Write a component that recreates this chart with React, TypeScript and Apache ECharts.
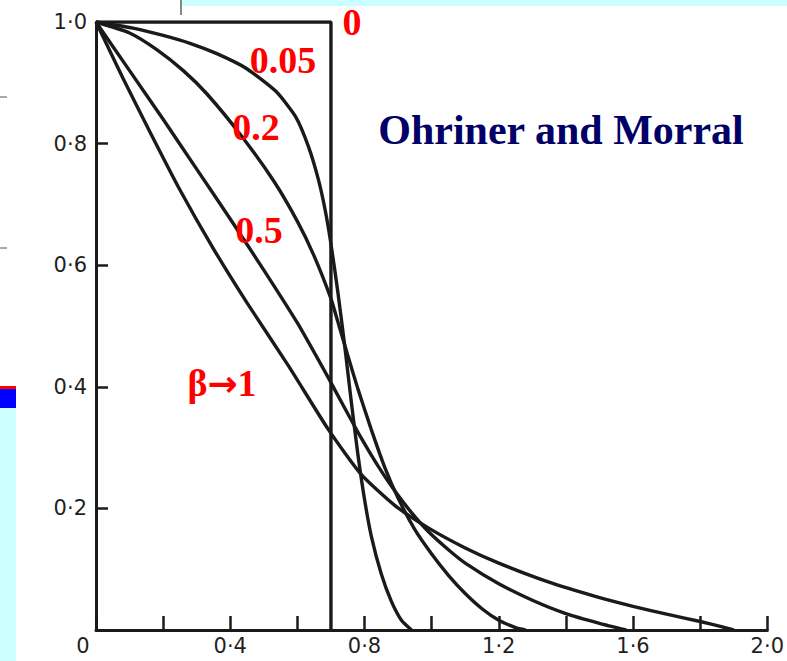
import React, { useEffect, useRef } from "react";
import * as echarts from "echarts";

// x = distance, y = normalized value; one array per beta
const beta0: number[][] = [[0, 1], [0.7, 1], [0.7, 0]];
const beta005: number[][] = [
  [0, 1], [0.11, 0.99], [0.2, 0.978], [0.28, 0.965], [0.36, 0.948], [0.447, 0.924],
  [0.536, 0.886], [0.595, 0.844], [0.633, 0.795], [0.663, 0.74], [0.683, 0.69],
  [0.7, 0.635], [0.72, 0.558], [0.74, 0.472], [0.76, 0.378], [0.78, 0.29], [0.8, 0.215],
  [0.82, 0.155], [0.85, 0.092], [0.88, 0.047], [0.91, 0.016], [0.94, 0],
];
const beta02: number[][] = [
  [0, 1], [0.1, 0.982], [0.18, 0.955], [0.26, 0.92], [0.33, 0.882], [0.43, 0.815],
  [0.53, 0.738], [0.6, 0.672], [0.65, 0.615], [0.7, 0.545], [0.72, 0.508], [0.75, 0.452],
  [0.78, 0.397], [0.82, 0.33], [0.86, 0.268], [0.9, 0.217], [0.95, 0.165], [1.0, 0.125],
  [1.05, 0.09], [1.1, 0.06], [1.15, 0.035], [1.2, 0.016], [1.25, 0.004], [1.28, 0],
];
const beta05: number[][] = [
  [0, 1], [0.1, 0.92], [0.2, 0.84], [0.3, 0.758], [0.4, 0.676], [0.5, 0.592],
  [0.6, 0.505], [0.692, 0.415], [0.74, 0.366], [0.79, 0.316], [0.84, 0.27],
  [0.89, 0.229], [0.94, 0.193], [0.99, 0.162], [1.05, 0.132], [1.1, 0.11], [1.2, 0.076],
  [1.3, 0.049], [1.4, 0.027], [1.5, 0.011], [1.58, 0],
];
const beta1: number[][] = [
  [0, 1], [0.08, 0.908], [0.16, 0.82], [0.249, 0.725], [0.35, 0.627], [0.45, 0.538],
  [0.574, 0.434], [0.692, 0.33], [0.79, 0.256], [0.89, 0.205], [0.99, 0.168],
  [1.1, 0.135], [1.2, 0.11], [1.343, 0.08], [1.49, 0.055], [1.6, 0.039], [1.7, 0.026],
  [1.8, 0.014], [1.86, 0.006], [1.9, 0],
];
const curveLabels = ["0", "0.05", "0.2", "0.5", "β→1"];
const title = "Ohriner and Morral";

const fmt = (v: number) => v.toFixed(1).replace(".", "·");

export default function App() {
  const ref = useRef<HTMLDivElement>(null);
  useEffect(() => {
    if (!ref.current) return;
    const chart = echarts.init(ref.current, null, { renderer: "svg" });
    const lineStyle = { color: "#1a1a1a", width: 3.4 };
    const mk = (name: string, data: number[][], smooth: number | boolean) => ({
      name,
      type: "line",
      data,
      showSymbol: false,
      smooth,
      lineStyle,
      silent: true,
      z: 3,
    });
    const serif = "'Liberation Serif', 'DejaVu Serif', serif";
    const redText = (text: string, x: number, y: number) => ({
      type: "text",
      x,
      y,
      z: 10,
      style: {
        text,
        fill: "#ff0000",
        font: `bold 38px ${serif}`,
        textAlign: "center",
        textVerticalAlign: "middle",
      },
    });
    const labelFont = {
      color: "#1f1f1f",
      fontSize: 21,
      fontWeight: "normal",
      fontFamily: "'DejaVu Sans', sans-serif",
    };
    chart.setOption({
      animation: false,
      backgroundColor: "#ffffff",
      grid: { left: 96, top: 22, width: 676, height: 608, containLabel: false },
      xAxis: {
        type: "value",
        min: 0,
        max: 2.0,
        interval: 0.2,
        splitLine: { show: false },
        axisLine: { lineStyle: { color: "#1a1a1a", width: 3 } },
        axisTick: { inside: true, length: 14, lineStyle: { color: "#1a1a1a", width: 2.5 } },
        axisLabel: {
          margin: 5,
          ...labelFont,
          formatter: (v: number) => {
            const k = Math.round(v * 10);
            if (k === 0) return "{z|0}";
            return k % 4 === 0 ? fmt(v) : "";
          },
          rich: {
            z: { ...labelFont, padding: [0, 26, 0, 0] },
          },
        },
      },
      yAxis: {
        type: "value",
        min: 0,
        max: 1.0,
        interval: 0.2,
        splitLine: { show: false },
        axisLine: { lineStyle: { color: "#1a1a1a", width: 3 } },
        axisTick: { inside: true, length: 12, lineStyle: { color: "#1a1a1a", width: 2.5 } },
        axisLabel: {
          margin: 9,
          ...labelFont,
          formatter: (v: number) => (v === 0 ? "" : fmt(v)),
        },
      },
      series: [
        mk(curveLabels[0], beta0, false),
        mk(curveLabels[1], beta005, 0.2),
        mk(curveLabels[2], beta02, 0.2),
        mk(curveLabels[3], beta05, 0.2),
        mk(curveLabels[4], beta1, 0.2),
      ],
      graphic: [
        { type: "rect", shape: { x: 0, y: 388, width: 16, height: 273 }, style: { fill: "#ccffff" } },
        { type: "rect", shape: { x: 0, y: 389, width: 16, height: 19 }, style: { fill: "#0000ff" } },
        { type: "rect", shape: { x: 0, y: 386, width: 16, height: 3 }, style: { fill: "#ff0000" } },
        { type: "rect", shape: { x: 182, y: 0, width: 605, height: 6 }, style: { fill: "#ccffff" } },
        { type: "line", shape: { x1: 181, y1: 0, x2: 181, y2: 15 }, style: { stroke: "#888", lineWidth: 2 } },
        { type: "line", shape: { x1: 0, y1: 97, x2: 7, y2: 97 }, style: { stroke: "#555", lineWidth: 1 } },
        { type: "line", shape: { x1: 0, y1: 248, x2: 7, y2: 248 }, style: { stroke: "#555", lineWidth: 1 } },
        redText(curveLabels[0], 352, 22),
        redText(curveLabels[1], 283, 60),
        redText(curveLabels[2], 256, 127),
        redText(curveLabels[3], 259, 230),
        {
          type: "text",
          x: 222,
          y: 383,
          z: 10,
          style: {
            text: "{b|β}{a|→}{b|1}",
            textAlign: "center",
            textVerticalAlign: "middle",
            rich: {
              b: { fill: "#ff0000", font: `bold 38px ${serif}` },
              a: { fill: "#ff0000", font: "bold 36px 'DejaVu Sans', sans-serif" },
            },
          },
        },
        {
          type: "text",
          x: 561,
          y: 130,
          z: 10,
          style: {
            text: title,
            fill: "#000066",
            font: `bold 42px ${serif}`,
            textAlign: "center",
            textVerticalAlign: "middle",
          },
        },
      ],
    });
    return () => chart.dispose();
  }, []);
  return (
    <div
      ref={ref}
      style={{ position: "fixed", left: 0, top: 0, width: 787, height: 661, background: "#fff" }}
    />
  );
}
